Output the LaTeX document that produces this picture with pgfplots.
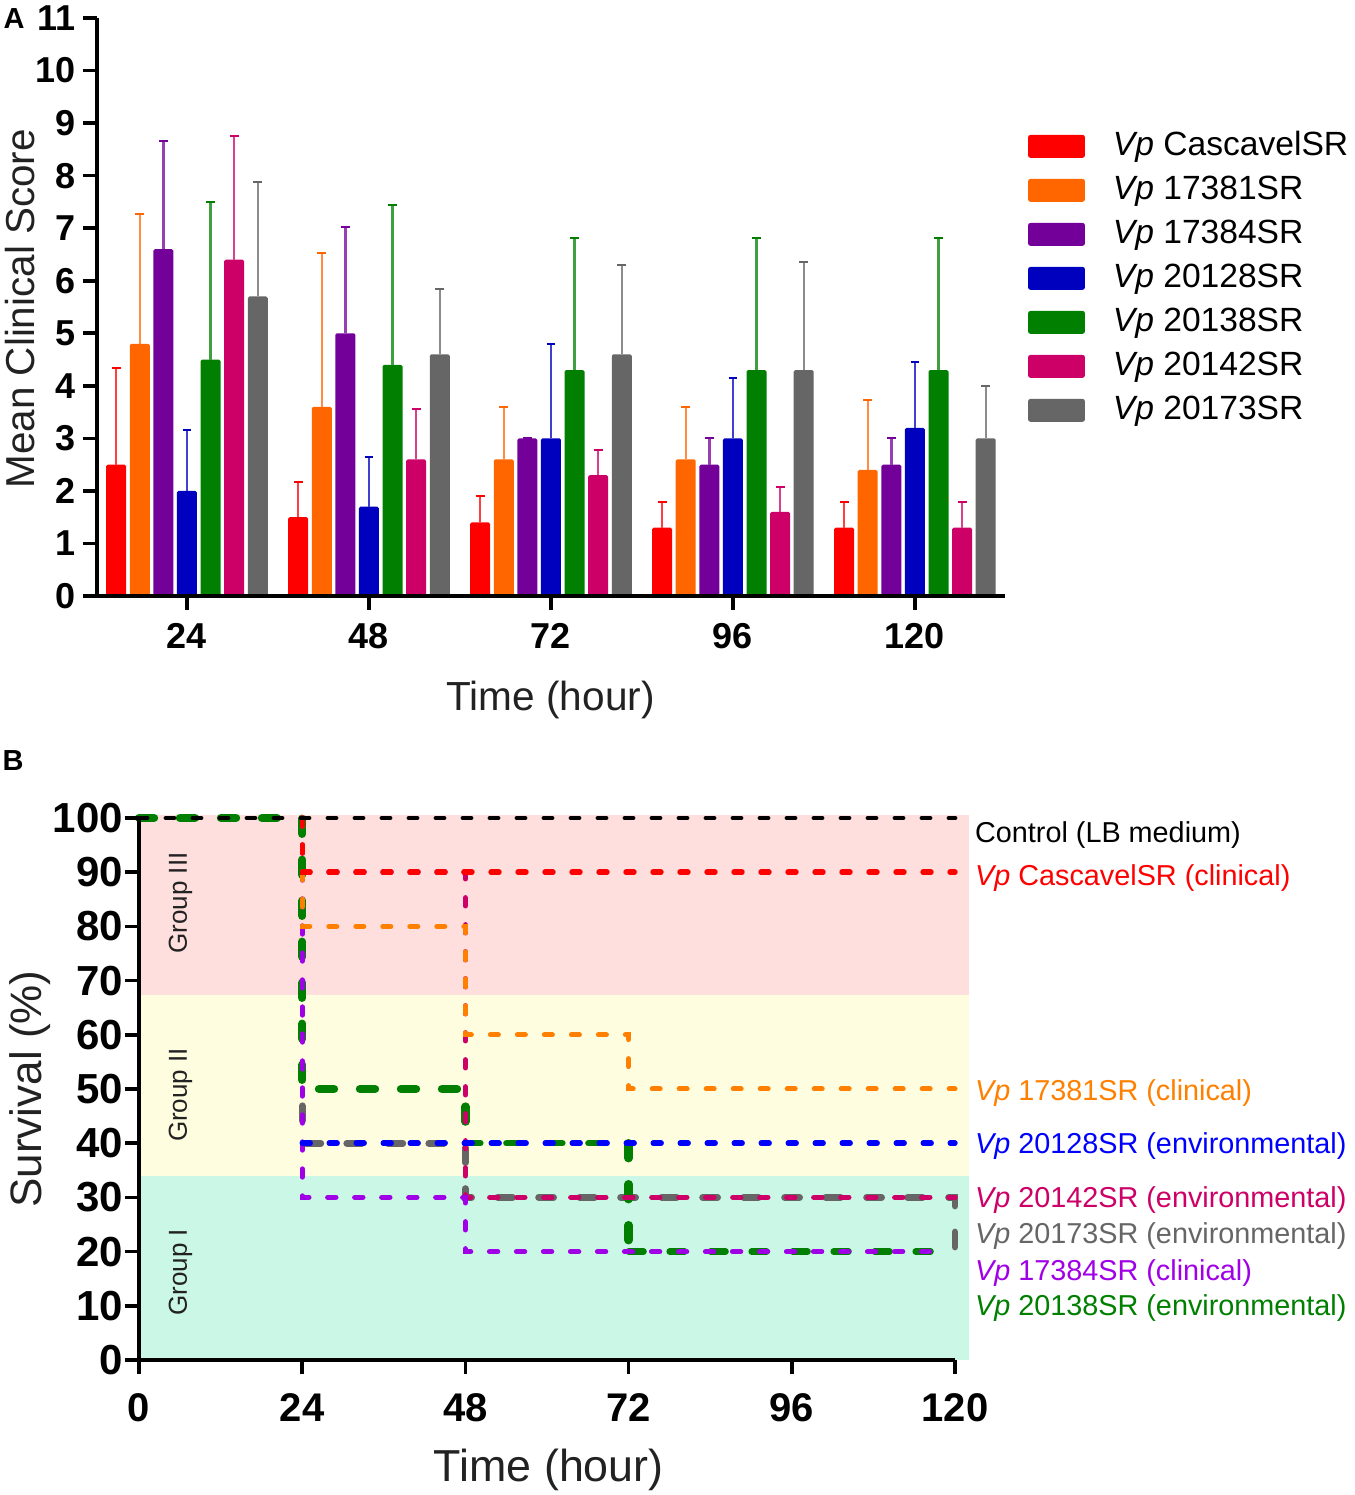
\documentclass[border=0pt]{standalone}
\usepackage{fontspec}
\setmainfont{Liberation Sans}
\usepackage{pgfplots}
\pgfplotsset{compat=1.18}
\definecolor{cRed}{HTML}{FF0000}
\definecolor{cOrange}{HTML}{FF6600}
\definecolor{cPurple}{HTML}{730099}
\definecolor{cBlue}{HTML}{0000BF}
\definecolor{cGreen}{HTML}{007F00}
\definecolor{cPink}{HTML}{CC0066}
\definecolor{cGray}{HTML}{666666}
\definecolor{lOrange}{HTML}{FF8000}
\definecolor{lBlue}{HTML}{0000FF}
\definecolor{lPurple}{HTML}{A000E6}
\definecolor{lPink}{HTML}{C8005F}
\definecolor{bandP}{HTML}{FFDEDE}
\definecolor{bandY}{HTML}{FFFDE0}
\definecolor{bandG}{HTML}{CBF8E6}
\definecolor{txt}{HTML}{222222}
\pgfplotsset{
  myaxis/.style={
    scale only axis, clip=false, axis on top,
    axis lines=left, axis line style={-,line width=1.8pt,black},
    every tick/.style={black,line width=1.8pt},
    major tick length=7pt, tick align=outside,
    /pgf/number format/assume math mode=true,
  },
  mybar/.style={
    fill=#1, draw=none, rounded corners=0.8pt, forget plot,
    error bars/y dir=plus, error bars/y explicit,
    error bars/error bar style={solid,draw=#1!75!white,line width=1.2pt},
    error bars/error mark options={solid,draw=#1,rotate=90,mark size=2.2pt,line width=1pt},
  },
  swatch/.style={legend image code/.code={\fill[#1,rounded corners=1pt] (0pt,-5.5pt) rectangle (28pt,5.5pt);}},
  thinl/.style={line width=2.7pt,line cap=round,dash pattern=on 4pt off 9.5pt,draw=#1},
  thickl/.style={line width=4.2pt,line cap=round,dash pattern=on 7.5pt off 13pt,draw=#1},
}
\newcommand{\lab}[3]{\node[anchor=west,inner sep=0pt,text=#2,font=\fontsize{14.4}{16}\selectfont] at (axis cs:122.9,#1) {#3};}
\begin{document}
\begin{tikzpicture}
\useasboundingbox (0,0) rectangle (677.5pt,747.5pt);
\node[anchor=center,inner sep=0pt,font=\fontsize{14.5}{16}\selectfont\bfseries] at (7pt,738pt) {A};
\node[anchor=center,inner sep=0pt,font=\fontsize{14.5}{16}\selectfont\bfseries] at (6.5pt,367pt) {B};
\begin{axis}[myaxis,
  at={(48.5pt,449.5pt)},anchor=south west,
  width=454pt,height=289pt,
  ybar, bar width=10pt,
  xmin=-0.4945,xmax=4.495,ymin=0,ymax=11,
  xtick={0,1,2,3,4},xticklabels={24,48,72,96,120},
  ytick={0,1,...,11},
  tick label style={font=\fontsize{18}{20}\selectfont\bfseries},
  xticklabel shift=3pt,
  xlabel={Time (hour)},ylabel={Mean Clinical Score},
  xlabel style={at={(axis description cs:0.4995,-0.18)},anchor=center,font=\fontsize{20.3}{22}\selectfont,text=txt},
  ylabel style={at={(axis description cs:-0.0848,0.497)},anchor=center,font=\fontsize{20.2}{22}\selectfont,text=txt},
  legend cell align=left,
  legend style={at={(1.025,0.808)},anchor=north west,draw=none,fill=none,inner sep=0pt,
    row sep=5pt,
    nodes={inner ysep=0pt,text height=13pt,text depth=4pt,font=\fontsize{16.8}{18}\selectfont}},
]
\addplot[mybar=cRed,bar shift=-35.4pt] coordinates {(0,2.5)+-(0,1.83) (1,1.5)+-(0,0.67) (2,1.4)+-(0,0.5) (3,1.3)+-(0,0.48) (4,1.3)+-(0,0.48)};
\addplot[mybar=cOrange,bar shift=-23.6pt] coordinates {(0,4.8)+-(0,2.47) (1,3.6)+-(0,2.93) (2,2.6)+-(0,1.0) (3,2.6)+-(0,1.0) (4,2.4)+-(0,1.33)};
\addplot[mybar=cPurple,bar shift=-11.8pt] coordinates {(0,6.6)+-(0,2.05) (1,5.0)+-(0,2.02) (2,3.0)+-(0,0) (3,2.5)+-(0,0.5) (4,2.5)+-(0,0.5)};
\addplot[mybar=cBlue,bar shift=0pt] coordinates {(0,2.0)+-(0,1.15) (1,1.7)+-(0,0.95) (2,3.0)+-(0,1.8) (3,3.0)+-(0,1.15) (4,3.2)+-(0,1.25)};
\addplot[mybar=cGreen,bar shift=11.8pt] coordinates {(0,4.5)+-(0,3.0) (1,4.4)+-(0,3.05) (2,4.3)+-(0,2.52) (3,4.3)+-(0,2.52) (4,4.3)+-(0,2.52)};
\addplot[mybar=cPink,bar shift=23.6pt] coordinates {(0,6.4)+-(0,2.36) (1,2.6)+-(0,0.95) (2,2.3)+-(0,0.47) (3,1.6)+-(0,0.47) (4,1.3)+-(0,0.48)};
\addplot[mybar=cGray,bar shift=35.4pt] coordinates {(0,5.7)+-(0,2.17) (1,4.6)+-(0,1.25) (2,4.6)+-(0,1.7) (3,4.3)+-(0,2.05) (4,3.0)+-(0,1.0)};
\addlegendimage{swatch=cRed}\addlegendentry{\hspace{12pt}\textit{Vp} CascavelSR}
\addlegendimage{swatch=cOrange}\addlegendentry{\hspace{12pt}\textit{Vp} 17381SR}
\addlegendimage{swatch=cPurple}\addlegendentry{\hspace{12pt}\textit{Vp} 17384SR}
\addlegendimage{swatch=cBlue}\addlegendentry{\hspace{12pt}\textit{Vp} 20128SR}
\addlegendimage{swatch=cGreen}\addlegendentry{\hspace{12pt}\textit{Vp} 20138SR}
\addlegendimage{swatch=cPink}\addlegendentry{\hspace{12pt}\textit{Vp} 20142SR}
\addlegendimage{swatch=cGray}\addlegendentry{\hspace{12pt}\textit{Vp} 20173SR}
\end{axis}
\begin{axis}[myaxis,
  at={(69.5pt,67.5pt)},anchor=south west,
  width=408pt,height=271pt,
  xmin=0,xmax=120,ymin=0,ymax=100,
  xtick={0,24,48,72,96,120},
  ytick={0,10,...,100},
  tick label style={font=\fontsize{20}{22}\selectfont\bfseries},
  yticklabel style={font=\fontsize{21}{23}\selectfont\bfseries},
  xticklabel shift=6.5pt,
  yticklabel shift=-2.5pt,
  xlabel={Time (hour)},ylabel={Survival (\%)},
  xlabel style={at={(axis description cs:0.5022,-0.2025)},anchor=center,font=\fontsize{22.4}{24}\selectfont,text=txt},
  ylabel style={at={(axis description cs:-0.133,0.5)},anchor=center,font=\fontsize{22}{24}\selectfont,text=txt},
]
\addplot[fill=bandP,draw=none,forget plot] coordinates {(0,100.5)(122,100.5)(122,67.3)(0,67.3)} -- cycle;
\addplot[fill=bandY,draw=none,forget plot] coordinates {(0,67.3)(122,67.3)(122,33.9)(0,33.9)} -- cycle;
\addplot[fill=bandG,draw=none,forget plot] coordinates {(0,33.9)(122,33.9)(122,0)(0,0)} -- cycle;
\addplot[thickl=cGray,line width=3.4pt] coordinates {(0,100)(24,100)(24,40)(48,40)(48,30)(120,30)(120,20)};
\addplot[thickl=cGreen] coordinates {(0,100)(24,100)(24,50)(48,50)(48,40)};
\addplot[thickl=cGreen,line width=3.2pt] coordinates {(48,40)(72,40)};
\addplot[thickl=cGreen] coordinates {(72,40)(72,20)};
\addplot[thickl=cGreen,line width=3.2pt] coordinates {(72,20)(119,20)};
\addplot[thinl=cPink] coordinates {(24,100)(24,90)(48,90)(48,30)(120,30)};
\addplot[thinl=lPurple] coordinates {(24,100)(24,30)(48,30)(48,20)(119,20)};
\addplot[thinl=lOrange,line width=2.5pt] coordinates {(24,100)(24,80)(48,80)(48,60)(72,60)(72,50)(120,50)};
\addplot[thinl=lBlue] coordinates {(24,40)(120,40)};
\addplot[thinl=cRed] coordinates {(24,100)(24,90)(120,90)};
\addplot[thinl=black,line width=2.4pt] coordinates {(0,100)(120,100)};
\node[rotate=90,inner sep=0pt,text=txt,font=\fontsize{13}{15}\selectfont] at (axis cs:6.1,84.3) {Group III};
\node[rotate=90,inner sep=0pt,text=txt,font=\fontsize{13}{15}\selectfont] at (axis cs:6.1,48.9) {Group II};
\node[rotate=90,inner sep=0pt,text=txt,font=\fontsize{13}{15}\selectfont] at (axis cs:6.1,16.2) {Group I};
\lab{96.9}{black}{Control (LB medium)}
\lab{89.0}{cRed}{\textit{Vp} CascavelSR (clinical)}
\lab{49.3}{lOrange}{\textit{Vp} 17381SR (clinical)}
\lab{39.4}{lBlue}{\textit{Vp} 20128SR (environmental)}
\lab{29.6}{cPink}{\textit{Vp} 20142SR (environmental)}
\lab{22.8}{cGray}{\textit{Vp} 20173SR (environmental)}
\lab{16.1}{lPurple}{\textit{Vp} 17384SR (clinical)}
\lab{9.5}{cGreen}{\textit{Vp} 20138SR (environmental)}
\end{axis}
\end{tikzpicture}
\end{document}
